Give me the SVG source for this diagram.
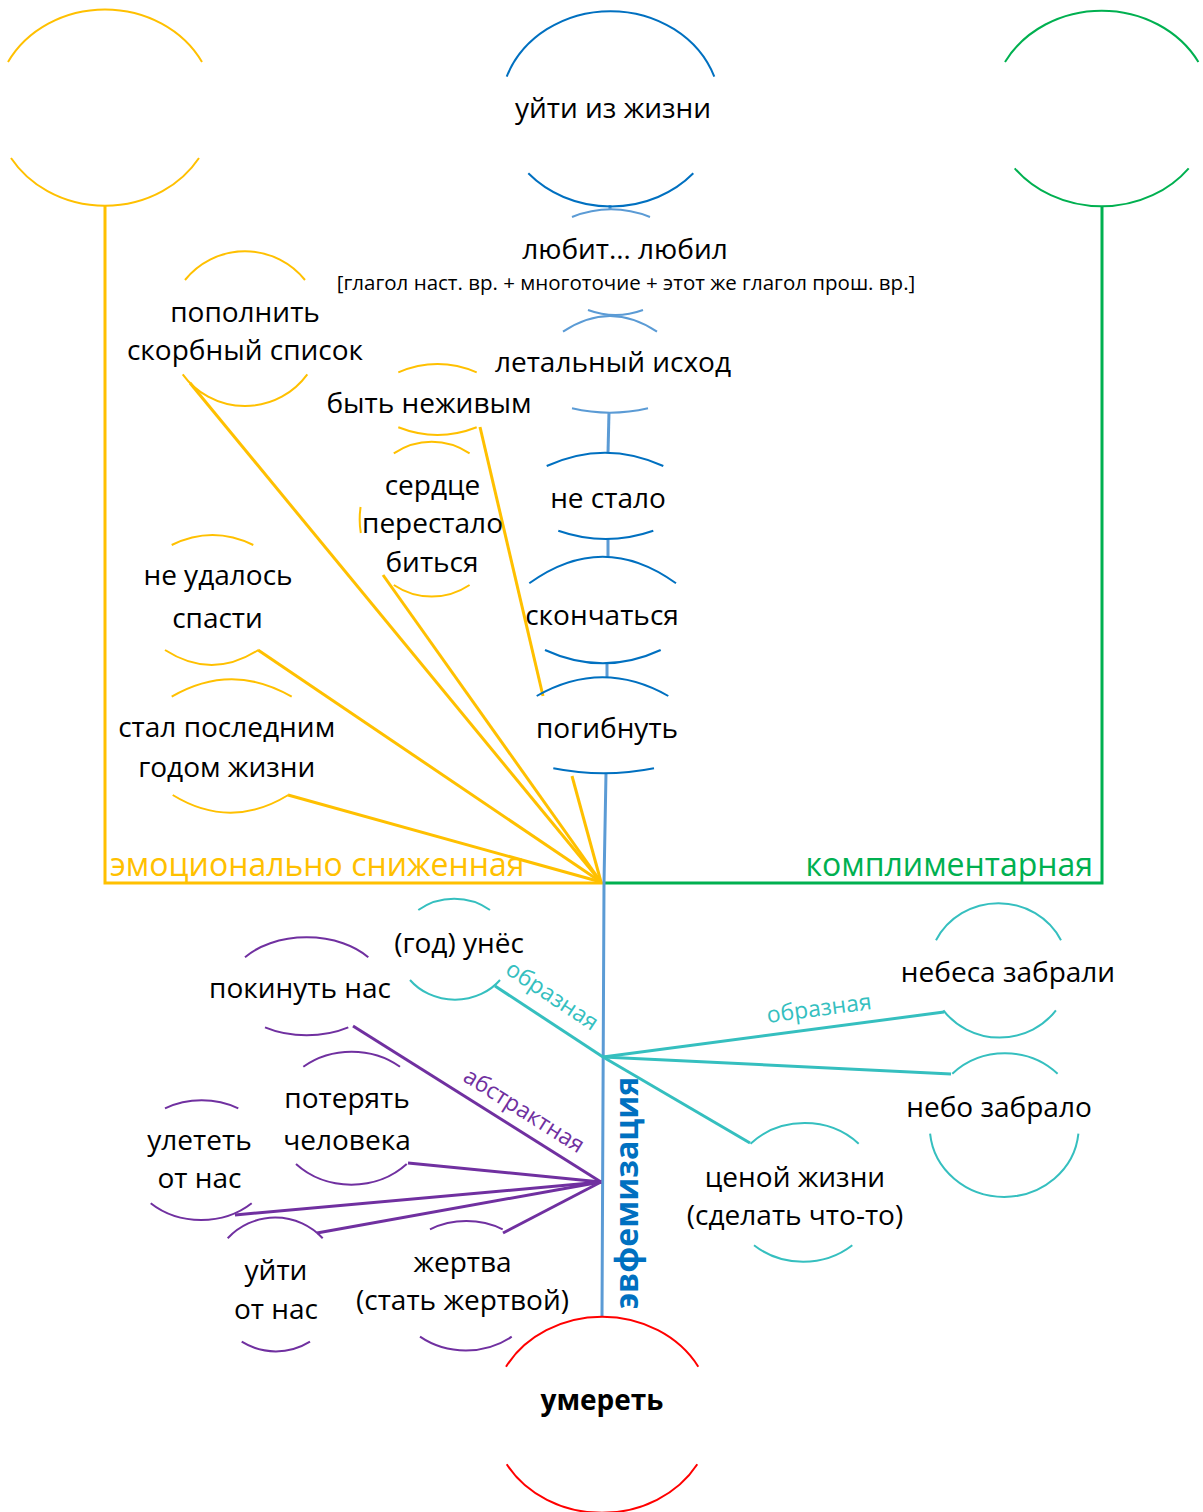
<svg xmlns="http://www.w3.org/2000/svg" width="1203" height="1512" viewBox="0 0 1203 1512">
<style>
.t{font-family:"Open Sans","DejaVu Sans",sans-serif;font-size:28px;fill:#000;text-anchor:middle}
.sub{font-size:20.5px}
.bold{font-weight:bold}
.arc{fill:none;stroke-width:2}
.c{fill:none;stroke-width:3;stroke-linejoin:miter}
.y{stroke:#FFC000}.g{stroke:#00B050}.b{stroke:#0070C0}.lb{stroke:#5B9BD5}.tl{stroke:#35BFBF}.p{stroke:#7030A0}.r{stroke:#FF0000}
.lbl{font-family:"Open Sans","DejaVu Sans",sans-serif;font-size:23px;text-anchor:middle}
.cat{font-family:"Open Sans","DejaVu Sans",sans-serif;font-size:32px}
</style>
<g id="connectors">
  <polyline class="c y" points="105,206 105,883 604,883"/>
  <polyline class="c g" points="1102,206 1102,883 604,883"/>
  <line class="c y" x1="190" y1="383" x2="601" y2="882"/>
  <line class="c y" x1="383" y1="575" x2="601" y2="882"/>
  <line class="c y" x1="258" y1="650" x2="601" y2="882"/>
  <line class="c y" x1="288" y1="795" x2="601" y2="882"/>
  <line class="c y" x1="480" y1="427" x2="543" y2="696"/>
  <line class="c y" x1="572" y1="776" x2="601" y2="882"/>
  <line class="c lb" x1="610" y1="205" x2="610" y2="210"/>
  <line class="c lb" x1="610" y1="314" x2="610" y2="317"/>
  <line class="c lb" x1="609" y1="412" x2="608" y2="453"/>
  <line class="c lb" x1="608" y1="538" x2="608" y2="557"/>
  <line class="c lb" x1="607" y1="663" x2="607" y2="678"/>
  <polyline class="c lb" points="606,773 604,883 602,1316"/>
  <line class="c tl" x1="495" y1="986" x2="603" y2="1057"/>
  <line class="c tl" x1="603" y1="1057" x2="944" y2="1012"/>
  <line class="c tl" x1="603" y1="1057" x2="951" y2="1074"/>
  <line class="c tl" x1="603" y1="1057" x2="750" y2="1143"/>
  <line class="c p" x1="353" y1="1026" x2="601" y2="1182"/>
  <line class="c p" x1="408" y1="1163" x2="601" y2="1182"/>
  <line class="c p" x1="235" y1="1215" x2="601" y2="1182"/>
  <line class="c p" x1="317" y1="1233" x2="601" y2="1182"/>
  <line class="c p" x1="503" y1="1233" x2="601" y2="1182"/>
  <text class="lbl" fill="#35BFBF" transform="translate(548,1002) rotate(33.6)">образная</text>
  <text class="lbl" fill="#35BFBF" transform="translate(820,1016) rotate(-7.5)">образная</text>
  <text class="lbl" fill="#7030A0" transform="translate(520,1117) rotate(32.2)">абстрактная</text>
  <text class="cat" fill="#FFC000" x="110" y="876">эмоционально сниженная</text>
  <text class="cat" fill="#00B050" x="1093" y="876" text-anchor="end">комплиментарная</text>
  <text class="cat bold" fill="#0070C0" font-size="30" text-anchor="middle" transform="translate(638,1193) rotate(-90)">эвфемизация</text>
</g>
<g id="yellow-top">
  <path class="arc y" d="M8,62 A109.5,98 0 0 1 202,62 M11,158 A109.5,98 0 0 0 199,158"/>
</g>
<g id="green-top">
  <path class="arc g" d="M1005,62 A110,98 0 0 1 1198.4,62 M1014.7,168.3 A110,98 0 0 0 1188.7,168.3"/>
</g>
<g id="uyti-iz-zhizni">
  <path class="arc b" d="M506.7,76.7 A110,98 0 0 1 714.3,76.7 M528.3,173.3 A110,98 0 0 0 693.3,173.3"/>
  <text class="t" x="613" y="118">уйти из жизни</text>
</g>
<g id="lyubit-lyubil">
  <path class="arc lb" d="M572,217 Q611,201.6 650,217 M588,310 Q615.5,320 643,310"/>
  <text class="t" x="625" y="259">любит… любил</text>
  <text class="t sub" x="626" y="290">[глагол наст. вр. + многоточие + этот же глагол прош. вр.]</text>
</g>
<g id="letalnyy-iskhod">
  <path class="arc lb" d="M563,331.7 Q610,300.3 657,331.7 M572,408.3 Q610,417.1 648,408.3"/>
  <text class="t" x="613" y="372">летальный исход</text>
</g>
<g id="ne-stalo">
  <path class="arc b" d="M546.7,466 Q605,439.4 663.3,466 M558.3,530.7 Q605.8,547.3 653.3,530.7"/>
  <text class="t" x="608" y="508">не стало</text>
</g>
<g id="skonchatsya">
  <path class="arc b" d="M529.3,583.3 Q602.7,530.1 676,583.3 M545,650 Q602.9,676.6 660.7,650"/>
  <text class="t" x="602" y="625">скончаться</text>
</g>
<g id="pogibnut">
  <path class="arc b" d="M536.7,696 Q602.5,658.6 668.3,696 M553.3,768.3 Q603.7,778.3 654,768.3"/>
  <text class="t" x="607" y="738">погибнуть</text>
</g>
<g id="umeret">
  <path class="arc r" d="M506,1366.7 A110,97 0 0 1 698.3,1366.7 M506.7,1464.3 A110,97 0 0 0 697.3,1464.3"/>
  <text class="t bold" x="602" y="1410">умереть</text>
</g>
<g id="popolnit">
  <path class="arc y" d="M185,280 A77,77 0 0 1 305,280 M182.7,374.3 A77,77 0 0 0 307.3,374.3"/>
  <text class="t" x="245" y="322">пополнить</text>
  <text class="t" x="245" y="360">скорбный список</text>
</g>
<g id="byt-nezhivym">
  <path class="arc y" d="M398.3,372.3 Q437.5,355.7 476.7,372.3 M398.3,427.3 Q437.5,442.7 476.7,427.3"/>
  <text class="t" x="429" y="413">быть неживым</text>
</g>
<g id="serdtse">
  <path class="arc y" d="M393.8,453.3 A72,77.5 0 0 1 469.6,453.3 M393.8,585 A72,77.5 0 0 0 469.6,585 M360.6,507 A72,77.5 0 0 0 360.8,533"/>
  <text class="t" x="432.5" y="495">сердце</text>
  <text class="t" x="432.5" y="533">перестало</text>
  <text class="t" x="432" y="572">биться</text>
</g>
<g id="ne-udalos">
  <path class="arc y" d="M171.7,545 Q212.5,525 253.3,545 M165,650 Q211.7,680 258.3,650"/>
  <text class="t" x="218" y="585">не удалось</text>
  <text class="t" x="217.5" y="628">спасти</text>
</g>
<g id="stal-poslednim">
  <path class="arc y" d="M171.7,696.7 Q231.7,661.9 291.7,696.7 M172.7,795 Q230.5,830.4 288.3,795"/>
  <text class="t" x="226.7" y="737">стал последним</text>
  <text class="t" x="226.7" y="777">годом жизни</text>
</g>
<g id="god-unes">
  <path class="arc tl" d="M418.3,910 A57,51 0 0 1 490,910 M410,980 A57,51 0 0 0 500,980"/>
  <text class="t" x="459" y="953">(год) унёс</text>
</g>
<g id="nebesa-zabrali">
  <path class="arc tl" d="M936,940.3 A70,67.5 0 0 1 1061,940.3 M943.4,1010.3 A70,67.5 0 0 0 1055.9,1010.3"/>
  <text class="t" x="1008" y="982">небеса забрали</text>
</g>
<g id="nebo-zabralo">
  <path class="arc tl" d="M952.3,1073.7 A74.5,70 0 0 1 1057.6,1073.7 M930.1,1133.7 A74.5,70 0 0 0 1078.4,1133.7"/>
  <text class="t" x="999" y="1117">небо забрало</text>
</g>
<g id="tsenoy-zhizni">
  <path class="arc tl" d="M750.5,1143.7 A76,69.5 0 0 1 858.7,1143.7 M754,1245.3 A76,69.5 0 0 0 852.3,1245.3"/>
  <text class="t" x="795" y="1187">ценой жизни</text>
  <text class="t" x="795" y="1225">(сделать что-то)</text>
</g>
<g id="pokinut-nas">
  <path class="arc p" d="M245,957.3 A76.5,49 0 0 1 368.3,957.3 M265,1027.3 A76.5,49 0 0 0 348.3,1027.3"/>
  <text class="t" x="300" y="998">покинуть нас</text>
</g>
<g id="poteryat">
  <path class="arc p" d="M303.3,1066.7 A76.5,66.7 0 0 1 400,1066.7 M296,1164 A76.5,66.7 0 0 0 406.7,1164"/>
  <text class="t" x="347" y="1108">потерять</text>
  <text class="t" x="347" y="1150">человека</text>
</g>
<g id="uletet">
  <path class="arc p" d="M165,1108.3 A73,60 0 0 1 238.3,1108.3 M150.7,1203.3 A73,60 0 0 0 251.7,1203.3"/>
  <text class="t" x="199.5" y="1150">улететь</text>
  <text class="t" x="199.5" y="1188">от нас</text>
</g>
<g id="uyti-ot-nas">
  <path class="arc p" d="M227.7,1238.3 A65,65.3 0 0 1 322.7,1238.3 M241.7,1341.7 A65,65.3 0 0 0 310,1341.7"/>
  <text class="t" x="276" y="1280">уйти</text>
  <text class="t" x="276" y="1319">от нас</text>
</g>
<g id="zhertva">
  <path class="arc p" d="M430,1229.3 A74.5,65 0 0 1 502.7,1229.3 M420,1336.7 A74.5,65 0 0 0 511.7,1336.7"/>
  <text class="t" x="462.5" y="1271.5">жертва</text>
  <text class="t" x="462.5" y="1310">(стать жертвой)</text>
</g>
</svg>
